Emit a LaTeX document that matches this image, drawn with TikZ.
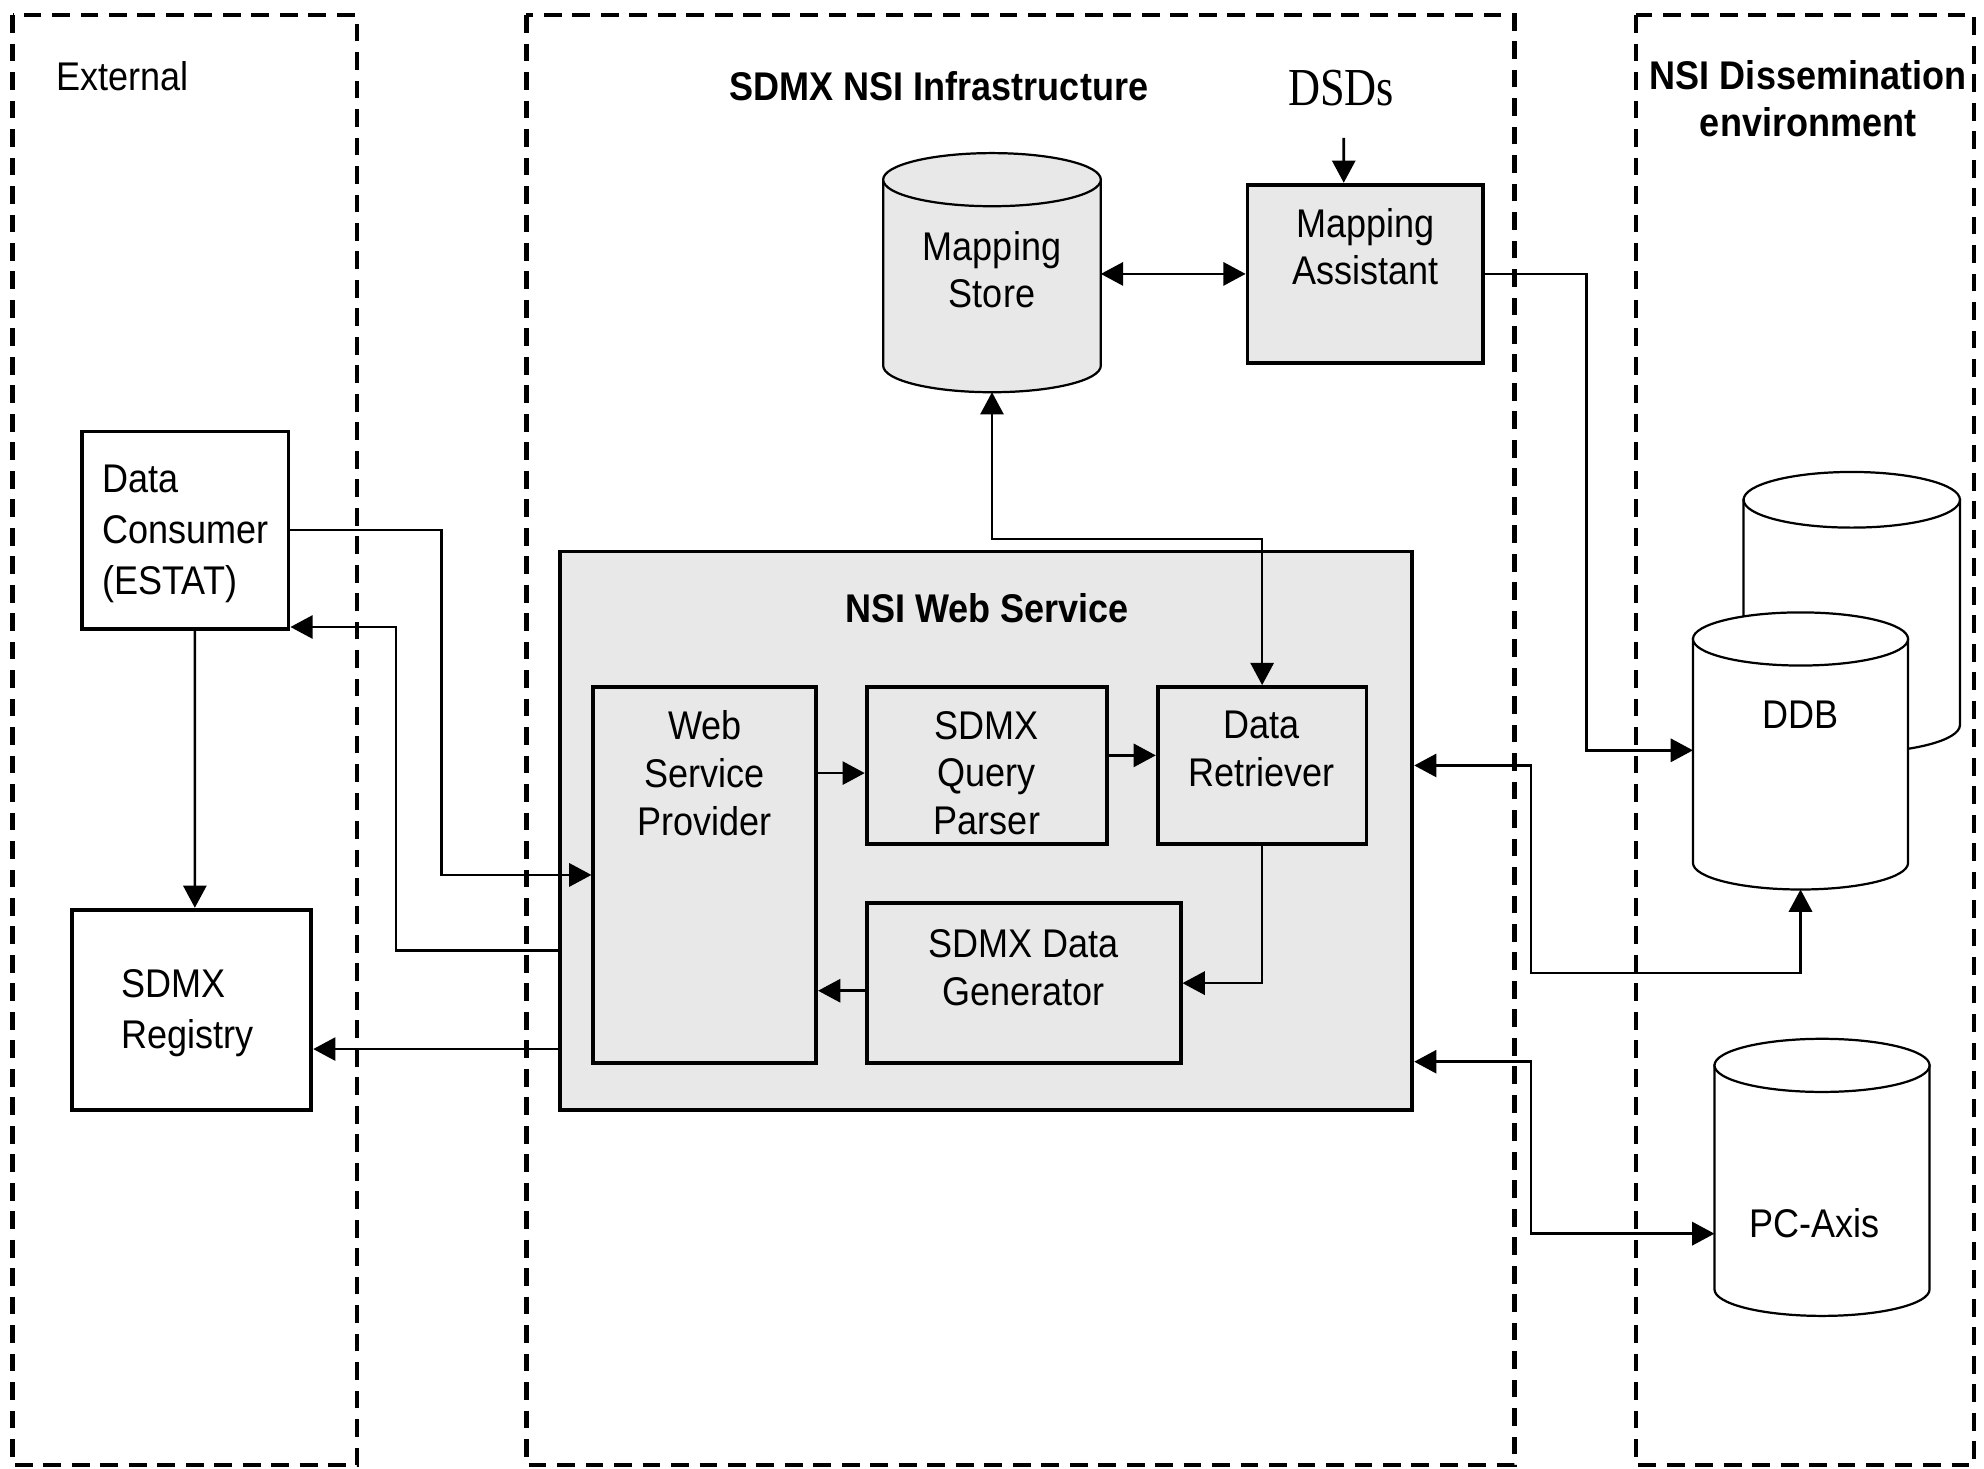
\documentclass[tikz,border=0pt]{standalone}
\usepackage{fontspec}
\setmainfont{Liberation Sans}[FakeStretch=0.9]
\newfontfamily\dsdsfont{Liberation Serif}[FakeStretch=0.83]
\usetikzlibrary{arrows.meta,calc}
\definecolor{boxgray}{RGB}{232,232,232}
\newcommand\mainsz{\fontsize{9}{10.7}\selectfont}
\newcommand\extsz{\fontsize{9}{11.4}\selectfont}
\begin{document}
\begin{tikzpicture}[x=0.01cm,y=-0.01cm,
  region/.style={draw, line width=1pt, dash pattern=on 4pt off 2.4pt},
  blk/.style={draw, line width=0.85pt, fill=boxgray, inner sep=0pt},
  wblk/.style={draw, line width=0.85pt, fill=white, inner sep=0pt},
  cylpath/.style={draw, line width=0.5pt},
  txt/.style={inner sep=0pt, align=center, font=\mainsz},
  conn/.style={line width=0.6pt, -{Triangle[length=5pt,width=5.2pt]}},
  dconn/.style={line width=0.6pt, {Triangle[length=5pt,width=5.2pt]}-{Triangle[length=5pt,width=5.2pt]}},
]
\useasboundingbox (0,0) rectangle (1568,1161);

% regions
\draw[region] (10,12) rectangle (282,1158);
\draw[region] (416,12) rectangle (1197,1158);
\draw[region] (1293,12) rectangle (1560,1158);

% titles
\node[txt, anchor=west] (extT) at (44,60) {External};
\node[txt, font=\mainsz\bfseries] (infraT) at (742,68) {SDMX NSI Infrastructure};
\node[txt, font=\mainsz\bfseries] (dissT) at (1429,78) {NSI Dissemination\\environment};
\node[inner sep=0pt, font=\dsdsfont\fontsize{12}{14}\selectfont] (dsds) at (1060,70) {DSDs};

% Mapping Store cylinder
\filldraw[cylpath, fill=boxgray] (698,142) -- (698,289) arc[start angle=180,end angle=0,x radius=86,y radius=21] -- (870,142) -- cycle;
\filldraw[cylpath, fill=boxgray] (784,142) ellipse[x radius=86, y radius=21];
\coordinate (msS) at (784,310);
\coordinate (msE) at (870,216.5);
\node[txt] (msT) at (784,213) {Mapping\\Store};

% Mapping Assistant
\node[blk, minimum width=1.86cm, minimum height=1.41cm] (ma) at (1079,216.5) {};
\node[txt] (maT) at (1079,195) {Mapping\\Assistant};

% NSI Web Service
\node[blk, minimum width=6.73cm, minimum height=4.41cm] (nsi) at (779.5,656.5) {};
\node[txt, font=\mainsz\bfseries] (nsiT) at (780,481) {NSI Web Service};

\node[blk, minimum width=1.76cm, minimum height=2.97cm] (wsp) at (557,691.5) {};
\node[txt] (wspT) at (557,611) {Web\\Service\\Provider};
\node[blk, minimum width=1.90cm, minimum height=1.24cm] (qp) at (780,605) {};
\node[txt] (qpT) at (780,611) {SDMX\\Query\\Parser};
\node[blk, minimum width=1.65cm, minimum height=1.24cm] (dr) at (997.5,605) {};
\node[txt] (drT) at (997,592) {Data\\Retriever};
\node[blk, minimum width=2.48cm, minimum height=1.26cm] (sdg) at (809,777) {};
\node[txt] (sdgT) at (809,765) {SDMX Data\\Generator};

% External boxes
\node[wblk, minimum width=1.63cm, minimum height=1.56cm] (dc) at (146.5,419) {};
\node[txt, font=\extsz, align=left] (dcT) at (146.5,422) {Data\\Consumer\\(ESTAT)};
\node[wblk, minimum width=1.89cm, minimum height=1.58cm] (reg) at (151.5,798) {};
\node[txt, font=\extsz, align=left, anchor=west] (regT) at (95,801) {SDMX\\Registry};

% DDB cylinders
\filldraw[cylpath, fill=white] (1378,395) -- (1378,573) arc[start angle=180,end angle=0,x radius=85.5,y radius=22] -- (1549,395) -- cycle;
\filldraw[cylpath, fill=white] (1463.5,395) ellipse[x radius=85.5, y radius=22];
\filldraw[cylpath, fill=white] (1338,505) -- (1338,682) arc[start angle=180,end angle=0,x radius=85,y radius=21] -- (1508,505) -- cycle;
\filldraw[cylpath, fill=white] (1423,505) ellipse[x radius=85, y radius=21];
\coordinate (ddbW) at (1338,593);
\coordinate (ddbS) at (1423,703);
\node[txt] (ddbT) at (1423,565) {DDB};

% PC-Axis cylinder
\filldraw[cylpath, fill=white] (1355,842) -- (1355,1019) arc[start angle=180,end angle=0,x radius=85,y radius=21] -- (1525,842) -- cycle;
\filldraw[cylpath, fill=white] (1440,842) ellipse[x radius=85, y radius=21];
\coordinate (pcW) at (1355,975);
\node[txt] (pcT) at (1434,967) {PC-Axis};

% connectors
\draw[dconn] (msE) -- (ma.west);
\draw[conn] ([xshift=0.02cm,yshift=-0.24cm]dsds.south) -- ([xshift=-0.17cm]ma.north);
\draw[conn] (ma.east) -| (1254,400) |- (ddbW);
\draw[dconn] (msS) |- (900,426) -| (dr.north);

\coordinate (q1) at ([yshift=-0.06cm]qp.west);
\draw[conn] (q1 -| wsp.east) -- (q1);
\draw[conn] ([yshift=0.08cm]qp.east) -- ([yshift=0.08cm]dr.west);
\draw[conn] (dr.south) |- (sdg.east);
\coordinate (g1) at ([yshift=-0.06cm]sdg.west);
\draw[conn] (g1) -- (g1 -| wsp.east);

\draw[conn] (dc.east) -| (349,600) |- (wsp.west);
\coordinate (n1) at ([yshift=-0.945cm]nsi.west);
\draw[conn] (n1) -| (313,600) |- ([yshift=0.03cm]dc.south east);
\coordinate (n2) at ([yshift=-1.725cm]nsi.west);
\draw[conn] (n2) -- (n2 -| reg.east);
\draw[conn] ([xshift=0.075cm]dc.south) -- ([xshift=0.025cm]reg.north);

\coordinate (n3) at ([yshift=0.515cm]nsi.east);
\draw[dconn] (n3) -| (1210,769) -| (ddbS);
\coordinate (n4) at ([yshift=-1.825cm]nsi.east);
\draw[dconn] (n4) -| (1210,975) -- (pcW);
\end{tikzpicture}
\end{document}
